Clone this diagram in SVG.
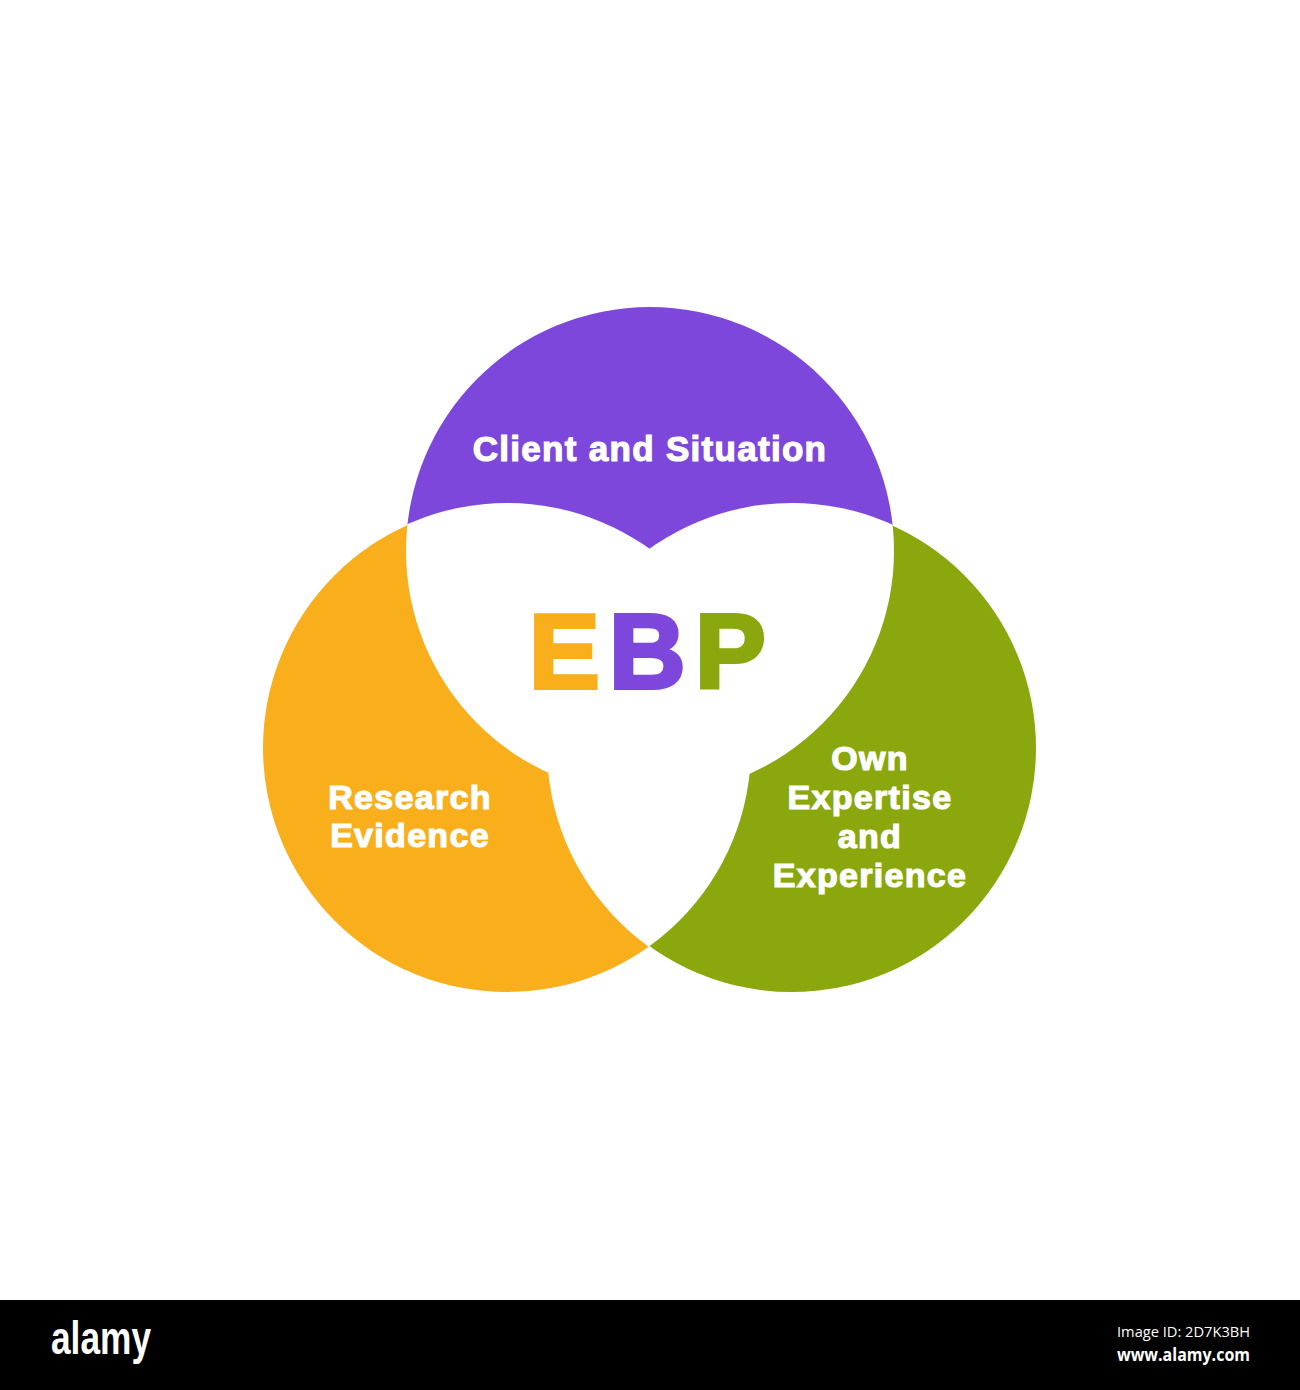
<svg xmlns="http://www.w3.org/2000/svg" width="1300" height="1390" viewBox="0 0 1300 1390">
<style>
.lbl{font-family:"Liberation Sans",Arial,sans-serif;font-weight:bold;fill:#ffffff;stroke:#ffffff;stroke-width:1.2px;text-anchor:middle;letter-spacing:1.3px}
.ebp{font-family:"Liberation Sans",Arial,sans-serif;font-weight:bold;font-size:106px;stroke-width:4px;stroke-linejoin:miter}
</style>
<defs>
<clipPath id="cpP"><circle cx="650" cy="551" r="244"/></clipPath>
<clipPath id="cpO"><circle cx="507" cy="748" r="244"/></clipPath>
</defs>
<rect width="1300" height="1390" fill="#ffffff"/>
<g id="node-client">
<circle cx="650" cy="551" r="244" fill="#7D47DC"/>
</g>
<g id="node-research">
<circle cx="507" cy="748" r="244" fill="#F9AE1B"/>
</g>
<g id="node-expertise">
<circle cx="792" cy="748" r="244" fill="#8AA80E"/>
</g>
<g id="overlaps">
<circle cx="507" cy="748" r="245" fill="#ffffff" clip-path="url(#cpP)"/>
<circle cx="792" cy="748" r="245" fill="#ffffff" clip-path="url(#cpP)"/>
<circle cx="792" cy="748" r="245" fill="#ffffff" clip-path="url(#cpO)"/>
</g>
<g id="labels">
<text class="lbl" x="650" y="461" font-size="35">Client and Situation</text>
<text class="lbl" x="410" y="809" font-size="34">Research</text>
<text class="lbl" x="410" y="847" font-size="34">Evidence</text>
<text class="lbl" x="870" y="770" font-size="34">Own</text>
<text class="lbl" x="870" y="809" font-size="34">Expertise</text>
<text class="lbl" x="870" y="848" font-size="34">and</text>
<text class="lbl" x="870" y="887" font-size="34">Experience</text>
</g>
<g id="node-ebp">
<text class="ebp" y="688"><tspan x="529" fill="#F9AE1B" stroke="#F9AE1B">E</tspan><tspan x="609" fill="#7D47DC" stroke="#7D47DC">B</tspan><tspan x="695" fill="#8AA80E" stroke="#8AA80E">P</tspan></text>
</g>
<g id="footer">
<rect x="0" y="1300" width="1300" height="90" fill="#000000"/>
<text x="51" y="1354" font-family="'Liberation Sans Narrow','Liberation Sans',sans-serif" font-weight="bold" font-size="46" fill="#ffffff" textLength="100" lengthAdjust="spacingAndGlyphs">alamy</text>
<text x="1117" y="1337" font-family="'Open Sans','DejaVu Sans',sans-serif" font-size="14" fill="#ffffff" textLength="133" lengthAdjust="spacingAndGlyphs">Image ID: 2D7K3BH</text>
<text x="1117" y="1361" font-family="'Open Sans','DejaVu Sans',sans-serif" font-weight="bold" font-size="17" fill="#ffffff" textLength="133" lengthAdjust="spacingAndGlyphs">www.alamy.com</text>
</g>
</svg>
